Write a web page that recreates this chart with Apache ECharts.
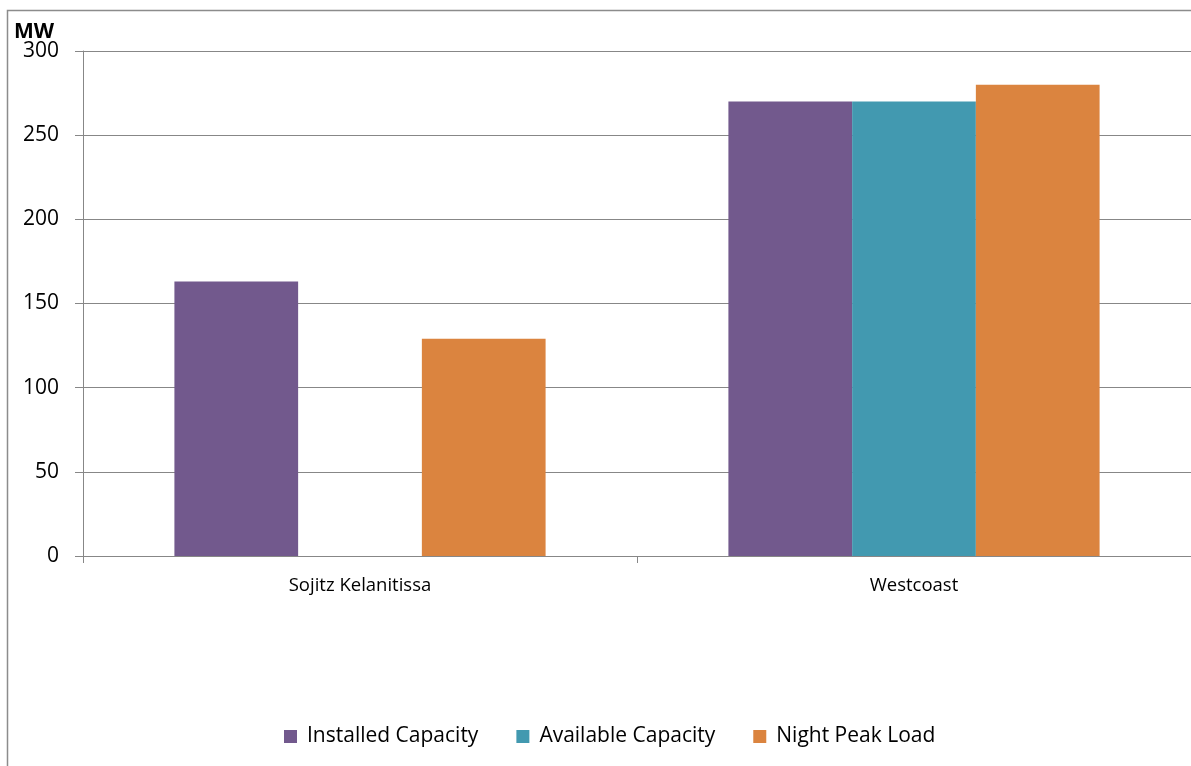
<!DOCTYPE html>
<html><head><meta charset="utf-8">
<script src="https://cdn.jsdelivr.net/npm/echarts@6/dist/echarts.min.js"></script>
<style>html,body{margin:0;padding:0;background:#fff}#c{width:1191px;height:766px}</style>
</head><body><div id="c"></div>
<script>
const categories = ['Sojitz Kelanitissa', 'Westcoast'];
const installedCapacity = [163, 270];
const availableCapacity = [null, 270];
const nightPeakLoad = [129, 280];
const seriesNames = ['Installed Capacity', 'Available Capacity', 'Night Peak Load'];
const colors = ['#72598D', '#4299B0', '#DB843F'];
const font = '"Open Sans", "Noto Sans", sans-serif';

const chart = echarts.init(document.getElementById('c'), null, {renderer: 'canvas'});
chart.setOption({
  animation: false,
  color: colors,
  textStyle: {fontFamily: font},
  graphic: [
    {type: 'rect', shape: {x: 7.5, y: 10.5, width: 1400, height: 1000}, style: {fill: 'none', stroke: '#8c8c8c', lineWidth: 1.5}, z: -1},
    {type: 'text', left: 14, top: 22, style: {text: 'MW', font: 'bold 21px ' + font, fill: '#000'}}
  ],
  grid: {left: 83, right: 0, top: 51, bottom: 210, containLabel: false},
  legend: {
    bottom: 14, left: 279, itemWidth: 13, itemHeight: 13, itemGap: 38,
    icon: 'rect',
    textStyle: {fontSize: 21, color: '#000', fontFamily: font, padding: [0, 0, 0, 5]},
    data: seriesNames
  },
  xAxis: {
    type: 'category', data: categories,
    axisLine: {lineStyle: {color: '#878787', width: 1}},
    axisTick: {show: true, length: 7, alignWithLabel: false, lineStyle: {color: '#878787'}},
    axisLabel: {fontSize: 18.5, color: '#000', margin: 20}
  },
  yAxis: {
    type: 'value', min: 0, max: 300, interval: 50,
    axisLine: {show: true, lineStyle: {color: '#878787'}},
    axisTick: {show: true, length: 8, lineStyle: {color: '#878787'}},
    splitLine: {lineStyle: {color: '#878787', width: 1}},
    axisLabel: {fontSize: 21, color: '#000', margin: 24}
  },
  series: [
    {name: seriesNames[0], type: 'bar', data: installedCapacity, barGap: '0%', barCategoryGap: '33%'},
    {name: seriesNames[1], type: 'bar', data: availableCapacity, barGap: '0%', barCategoryGap: '33%'},
    {name: seriesNames[2], type: 'bar', data: nightPeakLoad, barGap: '0%', barCategoryGap: '33%'}
  ]
});
</script></body></html>
